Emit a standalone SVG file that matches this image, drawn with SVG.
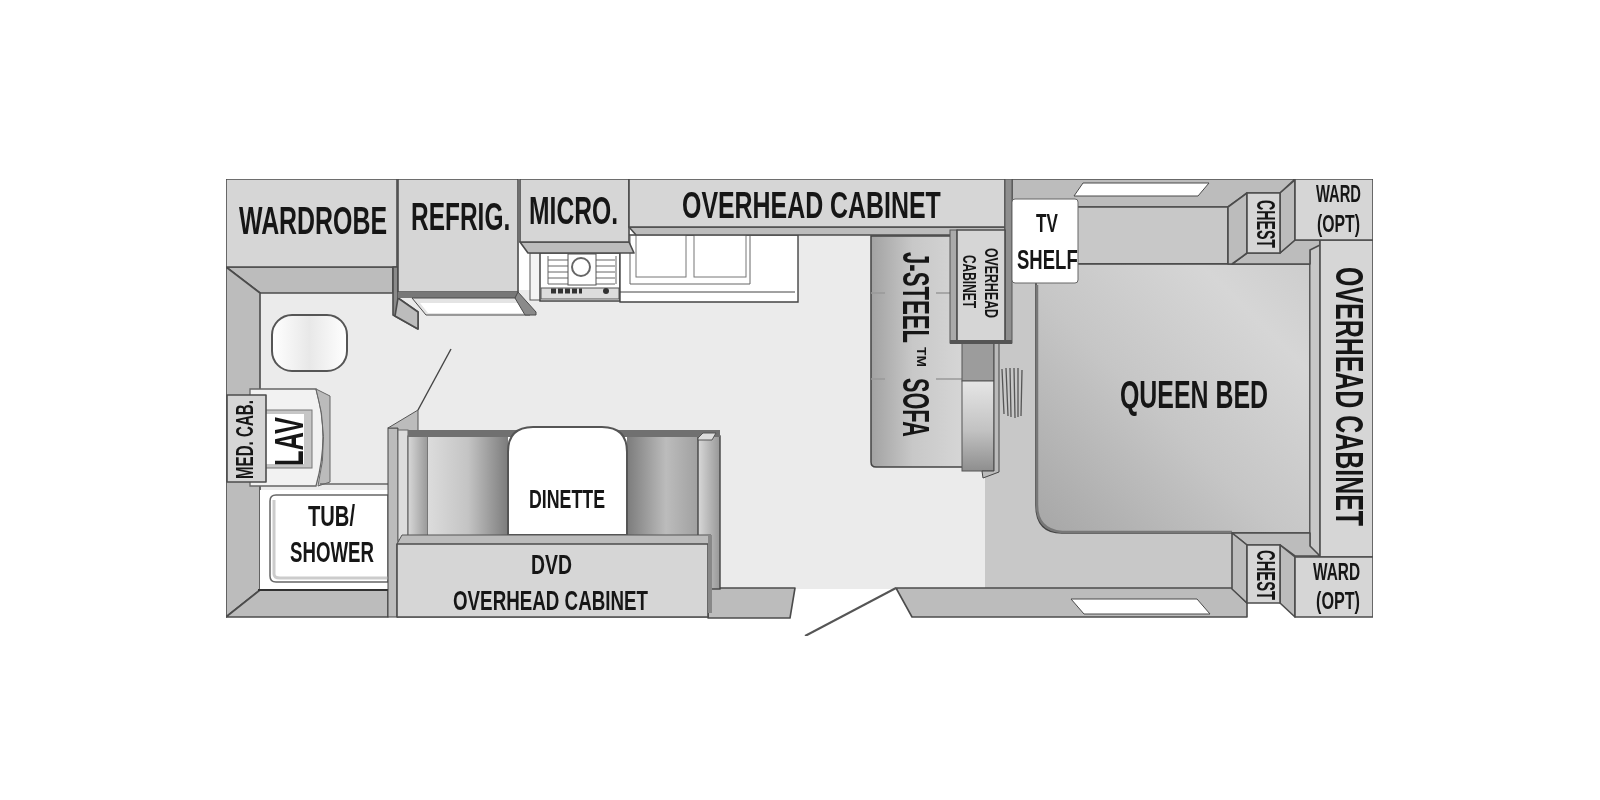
<svg xmlns="http://www.w3.org/2000/svg" width="1600" height="800" viewBox="0 0 1600 800">
<style>
text{font-family:"Liberation Sans",Arial,sans-serif;font-weight:700;fill:#161616}
.o{stroke:#4c4c4c;stroke-width:1.6;stroke-linejoin:round}
.t{stroke:#4a4a4a;stroke-width:1}
.c{fill:#d6d6d6}
.m{fill:#c8c8c8}
.d{fill:#bcbcbc}
.k{fill:#8a8a8a}
.w{fill:#fff}
.n{fill:none}
</style>
<defs>
<filter id="soft" x="0" y="0" width="1" height="1"><feGaussianBlur stdDeviation="0.5"/></filter>
<linearGradient id="bedG" x1="0" y1="1" x2="1" y2="0"><stop offset="0" stop-color="#a6a6a6"/><stop offset=".45" stop-color="#c6c6c6"/><stop offset=".8" stop-color="#d6d6d6"/><stop offset="1" stop-color="#cdcdcd"/></linearGradient>
<linearGradient id="sofaG" x1="0" y1="0" x2="1" y2="0"><stop offset="0" stop-color="#a2a2a2"/><stop offset=".45" stop-color="#c8c8c8"/><stop offset="1" stop-color="#d6d6d6"/></linearGradient>
<linearGradient id="seatL" x1="0" y1="0" x2="1" y2="0"><stop offset="0" stop-color="#dcdcdc"/><stop offset=".5" stop-color="#c4c4c4"/><stop offset="1" stop-color="#7c7c7c"/></linearGradient>
<linearGradient id="seatR" x1="0" y1="0" x2="1" y2="0"><stop offset="0" stop-color="#7c7c7c"/><stop offset=".55" stop-color="#bcbcbc"/><stop offset="1" stop-color="#a0a0a0"/></linearGradient>
<linearGradient id="armG" x1="0" y1="0" x2="0" y2="1"><stop offset="0" stop-color="#e6e6e6"/><stop offset=".55" stop-color="#c2c2c2"/><stop offset="1" stop-color="#8e8e8e"/></linearGradient>
<linearGradient id="sideG" x1="0" y1="0" x2="1" y2="0"><stop offset="0" stop-color="#d8d8d8"/><stop offset="1" stop-color="#989898"/></linearGradient>
<linearGradient id="toiletG" x1="0" y1="0" x2="1" y2="0"><stop offset="0" stop-color="#fff"/><stop offset=".5" stop-color="#e8e8e8"/><stop offset="1" stop-color="#fff"/></linearGradient>
</defs>
<rect width="1600" height="800" fill="#fff"/>
<g filter="url(#soft)">
<g id="floor">
<path fill="#ebebeb" d="M258 290H620V235H985V589H258Z"/>
<rect x="985" y="235" width="330" height="355" class="m"/>
</g>
<g id="walls">
<path class="o d" d="M226 267H393V293H260Z"/>
<path class="o d" d="M226 267L260 293V590L226 617Z"/>
<path class="o d" d="M226 617L260 590H388V617Z"/>
<rect x="260" y="490" width="128" height="100" class="w"/>
<line x1="258" y1="590" x2="388" y2="590" stroke="#333" stroke-width="2"/>
<path class="o d" d="M708 588H795L790 618H708Z"/>
<path class="o d" d="M896 588H1232L1247 603V617H912Z"/>
<path class="o d" d="M1012 179H1295L1280 193H1247L1228 207H1012Z"/>
<path class="o m" d="M1060 207H1228V264H1060Z"/>
<path class="t w" d="M1074 196L1083 183H1209L1198 196Z"/>
<path class="t w" d="M1071 599H1197L1210 614H1084Z"/>
</g>
<g id="door-bath"><path class="n" stroke="#444" stroke-width="1.4" d="M418 410L451 349"/></g>
<g id="door-entry"><path class="n" stroke="#555" stroke-width="2" d="M896 588L805 636"/></g>
<g id="wardrobe"><rect x="226" y="179" width="171" height="88" class="o c"/><text transform="translate(239 234) scale(.63 1)" font-size="39" textLength="235" lengthAdjust="spacingAndGlyphs">WARDROBE</text></g>
<g id="refrig">
<path class="o k" d="M393 267V315L418 329V312L398 298V267Z"/>
<path class="o d" d="M398 298L418 312V329L395 316Z"/>
<rect x="398" y="179" width="120" height="113" class="o c"/>
<rect x="398" y="292" width="120" height="6" fill="#777"/>
<path fill="#e4e4e4" stroke="#4a4a4a" d="M412 298H520L530 315H426Z"/>
<path class="w" d="M420 303H522L527 313H428Z"/>
<path class="t k" d="M518 292L536 312V315H525L515 298Z"/>
<text transform="translate(411 230) scale(.64 1)" font-size="38" textLength="155" lengthAdjust="spacingAndGlyphs">REFRIG.</text>
</g>
<g id="stove">
<rect x="530" y="253" width="90" height="47" fill="#f4f4f4" stroke="#555"/>
<rect x="540" y="253" width="80" height="48" class="w" stroke="#444" stroke-width="1.5"/>
<path class="n" stroke="#666" d="M548 256V284M616 256V284M548 260H615M548 266H615M548 272H615M548 278H615M548 284H615"/>
<rect x="568" y="254" width="28" height="31" class="w" stroke="#555"/>
<circle cx="581" cy="267" r="9" class="n" stroke="#666" stroke-width="2"/>
<rect x="541" y="288" width="78" height="11" fill="#ddd" stroke="#555"/>
<path stroke="#333" stroke-width="5" stroke-dasharray="5 2" d="M551 291H582" fill="none"/>
<circle cx="606" cy="291" r="3" fill="#333"/>
</g>
<g id="counter">
<path class="w" stroke="#444" stroke-width="1.4" d="M620 235H798V302H620Z"/>
<path class="n" stroke="#444" d="M620 292H795"/>
<path class="n" stroke="#666" d="M630 235V284H750V235"/>
<rect x="636" y="235" width="50" height="42" class="w" stroke="#777"/>
<rect x="694" y="235" width="52" height="42" class="w" stroke="#777"/>
</g>
<g id="micro">
<path class="o d" d="M520 242H629L634 253H528Z"/>
<rect x="520" y="179" width="109" height="63" class="o c"/>
<text transform="translate(529 224) scale(.65 1)" font-size="38" textLength="137" lengthAdjust="spacingAndGlyphs">MICRO.</text>
</g>
<g id="overhead-top">
<path class="o d" d="M629 227H1005V235H636Z"/>
<rect x="629" y="179" width="376" height="48" class="o c"/>
<rect x="1005" y="179" width="7" height="164" fill="#8e8e8e" stroke="#555"/>
<text transform="translate(682 218) scale(.674 1)" font-size="37" textLength="384" lengthAdjust="spacingAndGlyphs">OVERHEAD CABINET</text>
</g>
<g id="sofa">
<path d="M871 236H964V467H876Q871 467 871 462Z" fill="url(#sofaG)" stroke="#444" stroke-width="1.5"/>
<path class="n" stroke="#999" stroke-width="1.4" d="M871 293H885M936 293H950M871 379H885M936 379H962"/>
<rect x="962" y="343" width="32" height="38" fill="#9c9c9c" stroke="#555"/>
<rect x="962" y="381" width="32" height="90" fill="url(#armG)" stroke="#555"/>
<path fill="#bbb" stroke="#444" d="M994 343H999V472L983 478L982 471H994Z"/>
<path class="n" stroke="#555" stroke-width="1.3" d="M1002 369L1004 414M1006 368L1008 416M1010 368L1011 417M1014 368L1015 418M1018 368L1018 417M1022 370L1021 416"/>
<text transform="translate(903 252) rotate(90)" font-size="37" textLength="91" lengthAdjust="spacingAndGlyphs">J-STEEL</text>
<text transform="translate(917 347) rotate(90)" font-size="13" textLength="20" lengthAdjust="spacingAndGlyphs">TM</text>
<text transform="translate(903 378) rotate(90)" font-size="37" textLength="59" lengthAdjust="spacingAndGlyphs">SOFA</text>
</g>
<g id="overhead-small">
<rect x="950" y="230" width="7" height="113" fill="#aaa" stroke="#555"/>
<rect x="957" y="230" width="48" height="113" class="o c"/>
<rect x="950" y="340" width="62" height="4" fill="#555"/>
<text transform="translate(985 248) rotate(90)" font-size="18" textLength="70" lengthAdjust="spacingAndGlyphs">OVERHEAD</text>
<text transform="translate(963 255) rotate(90)" font-size="18" textLength="53" lengthAdjust="spacingAndGlyphs">CABINET</text>
</g>
<g id="bed">
<path d="M1036 283L1039 264H1310V533H1062Q1036 533 1036 505Z" fill="url(#bedG)" stroke="#444" stroke-width="1.6"/>
<path fill="none" stroke="#777" stroke-width="2.5" d="M1037 285V505Q1037 530 1062 532H1232"/>
<text x="1120" y="408" font-size="39" textLength="148" lengthAdjust="spacingAndGlyphs">QUEEN BED</text>
</g>
<g id="tv-shelf"><rect x="1012" y="199" width="66" height="84" rx="3" class="w" stroke="#666"/><text transform="translate(1036 232) scale(.66 1)" font-size="26" textLength="33" lengthAdjust="spacingAndGlyphs">TV</text><text transform="translate(1017 269) scale(.66 1)" font-size="28" textLength="92" lengthAdjust="spacingAndGlyphs">SHELF</text></g>
<g id="overhead-right">
<rect x="1310" y="245" width="10" height="311" class="m" stroke="#555"/>
<path class="o d" d="M1232 264L1247 253H1280L1295 240H1320V245L1310 250V264Z"/>
<path class="o d" d="M1232 533H1310V546L1320 556H1295L1280 545H1247Z"/>
<rect x="1320" y="240" width="53" height="317" class="o c"/>
<text transform="translate(1336 267) rotate(90)" font-size="39" textLength="259" lengthAdjust="spacingAndGlyphs">OVERHEAD CABINET</text>
</g>
<g id="chest-top"><path class="o d" d="M1228 207L1247 193V253L1232 264H1228Z"/><path class="o d" d="M1280 193L1295 180V240L1280 253Z"/><rect x="1247" y="193" width="33" height="60" class="o c"/><text transform="translate(1257 200) rotate(90)" font-size="25" textLength="48" lengthAdjust="spacingAndGlyphs">CHEST</text></g>
<g id="ward-top"><rect x="1295" y="179" width="78" height="61" class="o c"/><text x="1316" y="202" font-size="24" textLength="45" lengthAdjust="spacingAndGlyphs">WARD</text><text x="1317" y="232" font-size="24" textLength="43" lengthAdjust="spacingAndGlyphs">(OPT)</text></g>
<g id="chest-bottom"><path class="o d" d="M1232 533L1247 545V603L1232 589Z"/><path class="o d" d="M1280 545L1295 557V617L1280 603Z"/><rect x="1247" y="545" width="33" height="58" class="o c"/><text transform="translate(1257 550) rotate(90)" font-size="25" textLength="50" lengthAdjust="spacingAndGlyphs">CHEST</text></g>
<g id="ward-bottom"><rect x="1295" y="557" width="78" height="60" class="o c"/><text x="1313" y="580" font-size="24" textLength="47" lengthAdjust="spacingAndGlyphs">WARD</text><text x="1316" y="609" font-size="24" textLength="44" lengthAdjust="spacingAndGlyphs">(OPT)</text></g>
<g id="toilet"><rect x="272" y="315" width="75" height="56" rx="20" fill="url(#toiletG)" stroke="#555" stroke-width="2"/></g>
<g id="lav">
<path fill="#f2f2f2" stroke="#666" stroke-width="1.3" d="M250 389H316Q330 436 316 486H250Z"/>
<path fill="#bbb" stroke="#666" d="M316 389L330 396V482L318 486Q330 436 316 389Z"/>
<rect x="262" y="410" width="50" height="58" fill="#c6c6c6" stroke="#777"/>
<rect x="266" y="414" width="38" height="50" class="w"/>
<rect x="227" y="395" width="39" height="87" class="o c"/>
<text transform="translate(253 479) rotate(-90)" font-size="24" textLength="79" lengthAdjust="spacingAndGlyphs">MED. CAB.</text>
<text transform="translate(303 466) rotate(-90)" font-size="40" textLength="49" lengthAdjust="spacingAndGlyphs">LAV</text>
</g>
<g id="tub">
<path class="n" stroke="#666" stroke-width="1.5" d="M320 484H388"/>
<path class="w" stroke="#666" stroke-width="1.5" d="M388 495H276Q270 495 270 501V576Q270 582 276 582H388Z"/>
<path class="n" stroke="#ccc" stroke-width="3" d="M274 500V574Q274 578 280 578H388"/>
<text x="308" y="526" font-size="29" textLength="47" lengthAdjust="spacingAndGlyphs">TUB/</text>
<text x="290" y="562" font-size="29" textLength="84" lengthAdjust="spacingAndGlyphs">SHOWER</text>
</g>
<g id="dinette">
<rect x="388" y="428" width="10" height="189" class="d" stroke="#444"/>
<path class="d" stroke="#555" d="M388 428L418 410V433L410 436V440H398V428Z"/>
<rect x="398" y="430" width="322" height="105" class="w" stroke="none"/>
<rect x="398" y="430" width="10" height="110" fill="#ddd" stroke="#666"/>
<rect x="408" y="436" width="20" height="100" fill="url(#sideG)" stroke="#555"/>
<rect x="428" y="436" width="80" height="100" fill="url(#seatL)"/>
<rect x="627" y="436" width="71" height="100" fill="url(#seatR)"/>
<rect x="698" y="436" width="22" height="153" fill="url(#sideG)" stroke="#444" stroke-width="1.4"/>
<rect x="408" y="430" width="312" height="7" fill="#707070"/>
<path fill="#ddd" stroke="#555" d="M698 438L703 433H716L712 440H698Z"/>
<path d="M508 535V452Q508 427 533 427H602Q627 427 627 452V535Z" class="w" stroke="#555" stroke-width="2"/>
<text x="529" y="508" font-size="25" textLength="76" lengthAdjust="spacingAndGlyphs">DINETTE</text>
</g>
<g id="dvd-cabinet">
<path class="d" stroke="#555" d="M397 544L402 535H711V544H708V617H397Z"/>
<rect x="397" y="544" width="311" height="73" class="o c"/>
<rect x="708" y="535" width="4" height="78" fill="#888"/>
<text x="531" y="574" font-size="28" textLength="41" lengthAdjust="spacingAndGlyphs">DVD</text>
<text x="453" y="610" font-size="28" textLength="195" lengthAdjust="spacingAndGlyphs">OVERHEAD CABINET</text>
</g>
</g>
</svg>
